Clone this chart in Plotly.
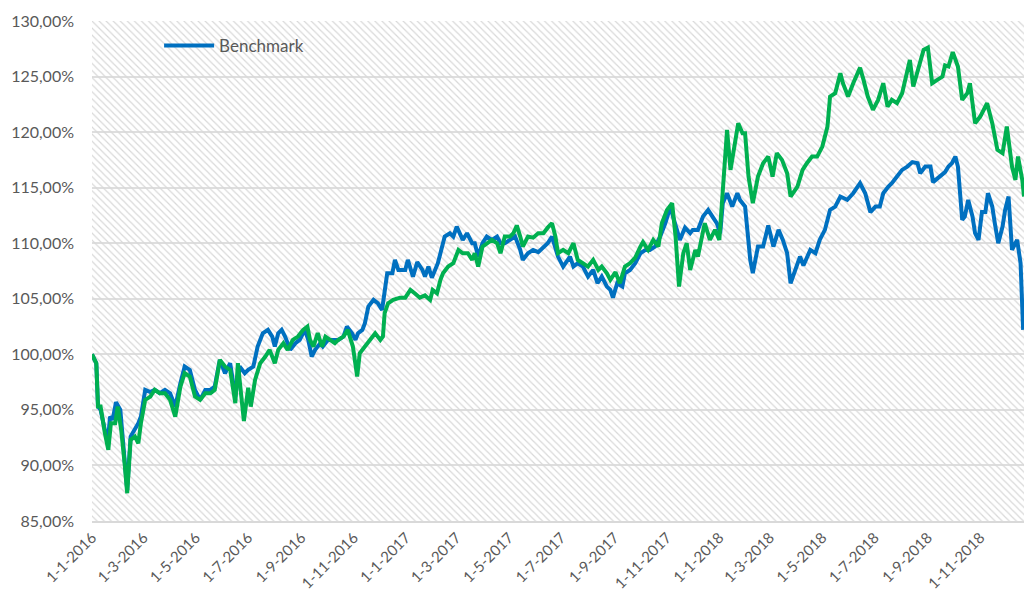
import pandas as pd
import plotly.graph_objects as go

# ---- data (days since 1-1-2016, value in %) ----
start_date = "2016-01-01"
end_offset_days = 1086

bench_days = [0, 1, 5, 7, 10, 15, 19, 21, 24, 28, 33, 36, 41, 45, 50, 54, 57, 62, 68, 73, 79, 85, 91, 97,
              103, 108, 114, 120, 126, 132, 138, 143, 149, 155, 161, 167, 172, 178, 182, 188, 193, 199,
              205, 210, 213, 217, 221, 225, 231, 237, 242, 248, 252, 256, 260, 266, 269, 275, 281, 287,
              293, 297, 303, 307, 310, 315, 318, 322, 328, 333, 338, 341, 344, 350, 353, 357, 365, 368,
              374, 379, 385, 388, 392, 396, 400, 403, 408, 411, 417, 421, 425, 429, 432, 437, 443, 446,
              450, 455, 460, 466, 472, 476, 481, 487, 493, 499, 502, 508, 514, 520, 526, 531, 536, 540,
              543, 549, 557, 561, 566, 572, 578, 584, 589, 594, 600, 604, 607, 612, 618, 621, 627, 633,
              639, 645, 650, 656, 662, 668, 674, 677, 682, 685, 691, 697, 700, 706, 712, 718, 723, 728,
              732, 735, 740, 746, 752, 755, 761, 767, 770, 776, 782, 788, 794, 800, 805, 810, 814, 819,
              825, 829, 837, 843, 848, 854, 860, 866, 872, 880, 887, 895, 901, 907, 913, 918, 922, 928,
              932, 938, 944, 950, 956, 962, 965, 971, 977, 980, 986, 991, 994, 998, 1002, 1006, 1009,
              1014, 1017, 1021, 1026, 1029, 1033, 1037, 1041, 1044, 1049, 1052, 1056, 1061, 1064, 1068,
              1072, 1076, 1078, 1082, 1084, 1085]
bench_values = [100, 99.8, 99.2, 95.3, 95, 93.2, 92.6, 94.4, 94.1, 95.7, 95, 92.3, 87.8, 92.6, 93.2, 93.8,
                94.4, 96.8, 96.6, 96.8, 96.5, 96.8, 96.5, 95.3, 97.4, 98.9, 98.6, 96.8, 95.9, 96.8, 96.8,
                97.1, 99.5, 98.3, 99.2, 96.2, 98.9, 98.3, 98.6, 98.9, 100.7, 101.9, 102.2, 101.6, 100.7,
                101.9, 102.2, 101.6, 100.4, 101, 101.3, 102.2, 101.3, 99.8, 100.4, 101, 100.7, 101.3,
                101.3, 101.3, 101.6, 102.5, 101.9, 101.3, 101.9, 102.2, 102.8, 104.3, 104.9, 104.6, 104,
                105.5, 107.3, 107.3, 108.5, 107.6, 107.6, 108.5, 107, 108.3, 107.6, 107, 107.9, 106.9,
                107.6, 108.2, 109.7, 110.6, 110.9, 110.6, 111.5, 110.9, 110.3, 110.9, 110, 110, 108.8,
                110, 110.6, 110.3, 110.6, 110, 110, 110.3, 110.6, 109.4, 108.5, 109.1, 109.4, 109.2,
                109.7, 110, 110.6, 109.7, 108.8, 107.9, 108.8, 107.9, 108.2, 107.9, 107, 107.6, 106.4,
                107, 106.1, 105.8, 105.1, 106.4, 106.1, 107.3, 107.6, 108.2, 109.1, 109.4, 109.4, 109.7,
                110.6, 111.8, 113.3, 112.4, 110.9, 110.3, 111.4, 110.9, 111.2, 111.2, 112.4, 113, 112.4,
                111.8, 110.9, 113.6, 114.5, 113.3, 114.5, 113.9, 113.3, 108.5, 107.3, 109.7, 109.7, 111.6,
                109.7, 111.2, 110.3, 109.1, 106.4, 107.6, 108.8, 108, 109.4, 109.1, 110.3, 111.2, 113,
                113.3, 114.2, 113.9, 114.5, 115.4, 114.5, 112.8, 113.3, 113.3, 114.5, 115.1, 115.4, 116,
                116.6, 116.9, 117.3, 117.2, 116.3, 116.9, 116.9, 115.5, 115.9, 116.3, 116.4, 116.9, 117.2,
                117.8, 116.9, 112.1, 112.4, 113.9, 112.4, 110.9, 110.3, 112.8, 112.8, 114.5, 113.3, 111.8,
                110, 111.5, 113, 114.2, 109.4, 110, 110.3, 108.2, 105.2, 102.2]

fund_days = [0, 1, 5, 7, 10, 15, 19, 22, 27, 30, 34, 38, 41, 45, 50, 54, 57, 62, 68, 73, 79, 85, 91, 97,
             103, 108, 114, 120, 126, 132, 138, 143, 149, 155, 161, 167, 170, 174, 177, 182, 185, 190,
             196, 202, 207, 213, 217, 223, 228, 234, 240, 246, 251, 254, 258, 263, 268, 272, 277, 283,
             287, 293, 298, 304, 309, 312, 318, 324, 330, 336, 339, 341, 345, 351, 357, 359, 365, 371,
             376, 382, 388, 394, 397, 402, 406, 409, 415, 421, 427, 432, 438, 443, 446, 450, 455, 460,
             466, 472, 476, 481, 487, 491, 495, 499, 502, 508, 514, 520, 526, 531, 536, 540, 543, 549,
             555, 561, 566, 572, 578, 584, 590, 594, 600, 604, 610, 615, 621, 627, 633, 639, 642, 648,
             654, 660, 664, 670, 676, 680, 684, 689, 693, 697, 703, 706, 711, 714, 720, 726, 731, 735,
             740, 744, 747, 753, 758, 761, 765, 770, 776, 782, 788, 793, 798, 804, 810, 814, 822, 828,
             833, 839, 845, 851, 857, 860, 866, 872, 875, 881, 887, 895, 899, 904, 910, 916, 922, 927,
             932, 938, 944, 950, 953, 957, 963, 969, 974, 979, 985, 991, 994, 998, 1003, 1009, 1014,
             1020, 1023, 1029, 1035, 1043, 1049, 1055, 1061, 1066, 1072, 1076, 1079, 1084, 1086]
fund_values = [100, 99.8, 99.2, 95.3, 95.3, 92.9, 91.4, 93.8, 93.8, 95.3, 93.2, 90.2, 87.5, 92.3, 92.6, 92,
               93.8, 95.9, 96.2, 96.8, 96.5, 96.5, 95.9, 94.4, 97.1, 98.3, 98, 96.2, 95.9, 96.5, 96.5,
               96.8, 99.5, 98.9, 98.6, 95.6, 99.2, 96.2, 94, 97, 95.3, 97.7, 99.2, 99.8, 100.4, 99.2,
               100.4, 101, 100.4, 101.3, 101.6, 102.2, 102.5, 101.3, 100.7, 101.9, 100.7, 101.6, 101.3,
               101, 101.3, 101.6, 102.2, 100.7, 98, 100.1, 100.7, 101.3, 101.9, 101.3, 101.6, 103.7,
               104.6, 104.9, 105.1, 105.1, 105.1, 105.8, 105.5, 105.1, 105.3, 104.9, 105.8, 105.5, 106.7,
               107.3, 107.9, 108.2, 109.4, 109.1, 109.1, 108.5, 109.1, 107.9, 109.7, 110, 110.3, 110,
               109.1, 110.6, 110.6, 110.9, 111.6, 110.6, 109.7, 110.6, 110.5, 110.9, 110.9, 111.4, 111.8,
               110.6, 109.1, 109.4, 109.1, 110, 108.5, 108.2, 107.9, 108.5, 107.6, 107.9, 107.3, 106.7,
               107.4, 106.4, 107.9, 108.2, 108.7, 109.7, 110.1, 109.4, 110.3, 109.7, 111.8, 113, 113.6,
               110.6, 106.1, 109.1, 110, 107.6, 109.4, 108.8, 110.9, 111.8, 110.3, 111.2, 110.3, 115.1,
               120.2, 116.6, 118.1, 120.8, 119.9, 119.9, 116, 113.6, 116, 117.2, 117.8, 116, 118.1, 117.5,
               116.3, 114.2, 115.1, 116.6, 117.2, 117.8, 117.8, 118.7, 120.5, 123.2, 123.5, 125.3, 124.4,
               123.2, 124.4, 125.8, 124.7, 123.2, 122, 122.9, 124.4, 122.3, 122.9, 122.6, 123.5, 125.6,
               126.5, 124.1, 125.9, 127.4, 127.6, 124.4, 124.7, 125, 126, 125.9, 127.2, 125.9, 122.9,
               123.5, 124.4, 120.8, 121.4, 122.6, 120.8, 118.4, 118.1, 120.5, 116.9, 115.7, 117.8, 115.7,
               114.2]

y_ticks = [85, 90, 95, 100, 105, 110, 115, 120, 125, 130]
series_names = ["Benchmark", "Fonds"]
series_colors = ["#0070C0", "#00B050"]

# ---- build ----
base = pd.Timestamp(start_date)
bench_dates = base + pd.to_timedelta(bench_days, unit="D")
fund_dates = base + pd.to_timedelta(fund_days, unit="D")
x_end = base + pd.Timedelta(days=end_offset_days)

tick_dates = pd.date_range(base, x_end, freq="2MS")
tick_text = [f"{d.day}-{d.month}-{d.year}" for d in tick_dates]
y_text = [f"{v:.2f}".replace(".", ",") + "%" for v in y_ticks]

FONT = "Lato, 'Open Sans', sans-serif"
GREY = "#595959"

fig = go.Figure()

# hatched plot-area background on a hidden helper axis pair
fig.add_trace(go.Scatter(
    x=[0, 1, 1, 0, 0], y=[0, 0, 1, 1, 0], mode="none", fill="toself",
    fillcolor="rgba(0,0,0,0)",
    fillpattern=dict(shape="\\", fgcolor="#d8d8d8", bgcolor="rgba(0,0,0,0)",
                     size=5, solidity=0.24, fillmode="replace"),
    hoverinfo="skip", showlegend=False, xaxis="x", yaxis="y"))

fig.add_trace(go.Scatter(
    x=bench_dates, y=bench_values, mode="lines", name=series_names[0],
    line=dict(color=series_colors[0], width=4), xaxis="x2", yaxis="y2"))
fig.add_trace(go.Scatter(
    x=fund_dates, y=fund_values, mode="lines", name=series_names[1], showlegend=False,
    line=dict(color=series_colors[1], width=4), xaxis="x2", yaxis="y2"))

fig.update_layout(
    width=1024, height=597,
    margin=dict(l=92, r=0, t=21, b=76),
    paper_bgcolor="white", plot_bgcolor="white",
    font=dict(family=FONT, color=GREY, size=15),
    xaxis=dict(range=[0, 1], visible=False, fixedrange=True),
    yaxis=dict(range=[0, 1], visible=False, fixedrange=True),
    xaxis2=dict(overlaying="x", type="date", range=[base, x_end],
                tickvals=tick_dates, ticktext=tick_text, tickangle=-45,
                showgrid=False, zeroline=False, showline=True, linecolor="#d9d9d9",
                linewidth=2, ticks="", automargin=False,
                tickfont=dict(family=FONT, size=15, color=GREY)),
    yaxis2=dict(overlaying="y", range=[85, 130], tickvals=y_ticks, ticktext=y_text,
                showgrid=True, gridcolor="#dedede", gridwidth=2, zeroline=False,
                showline=False, ticks="", ticklabelstandoff=17, automargin=False,
                tickfont=dict(family=FONT, size=16, color=GREY)),
    showlegend=True,
    legend=dict(x=0.072, y=0.95, xanchor="left", yanchor="middle",
                bgcolor="rgba(0,0,0,0)", font=dict(family=FONT, size=17, color=GREY),
                itemwidth=50),
)

# remove the default page margin so the 1024x597 figure fills the window exactly
fig.write_html(
    "out.html",
    config={"displayModeBar": False},
    post_script="document.body.style.margin='0';document.body.style.overflow='hidden';",
)
